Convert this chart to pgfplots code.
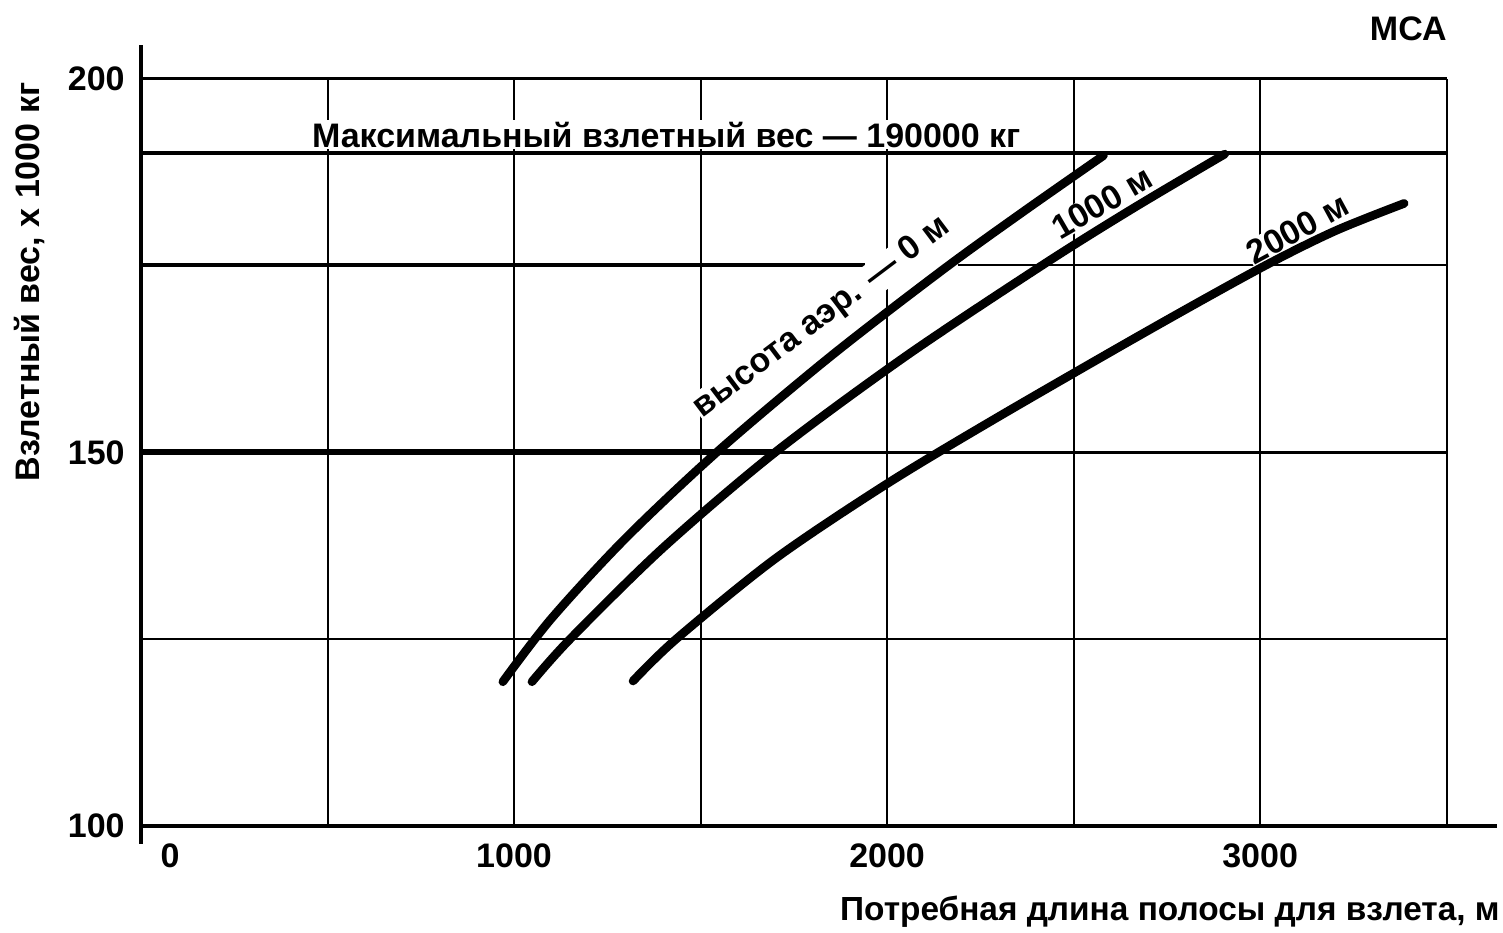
\documentclass[border=0pt]{standalone}
\usepackage{fontspec}
\setmainfont{Liberation Sans}
\usepackage{pgfplots}
\pgfplotsset{compat=1.18}
\newcommand{\lf}{\fontsize{17}{20}\selectfont\bfseries}
\begin{document}
\begin{tikzpicture}
\useasboundingbox (-70.5pt,-53pt) rectangle (681pt,413pt);
\begin{axis}[
  at={(0pt,0pt)}, anchor=south west,
  scale only axis, width=678pt, height=390.5pt,
  xmin=0, xmax=3635, ymin=100, ymax=204.5,
  axis x line*=bottom, axis y line*=left,
  axis line style={-, line width=1.6pt},
  xtick={0,1000,2000,3000},
  xticklabels={\hspace*{29pt}0,1000,2000,3000},
  ytick={100,150,200},
  major tick length=0pt,
  tick style={draw=none},
  ticklabel style={font=\lf},
  xticklabel style={anchor=north, inner sep=0pt, yshift=-8.5pt},
  yticklabel style={anchor=east, inner sep=0pt, xshift=-8pt},
  /pgf/number format/assume math mode=true,
  clip=false,
]
% grid
\foreach \gx in {500,1000,...,3500} {
  \edef\tmp{\noexpand\draw[line width=1pt] (axis cs:\gx,100) -- (axis cs:\gx,200);}\tmp
}
\draw[line width=1.5pt] (axis cs:0,200) -- (axis cs:3500,200);
\draw[line width=2pt] (axis cs:0,190) -- (axis cs:3500,190);
\draw[line width=2pt] (axis cs:0,175) -- (axis cs:1940,175);
\draw[line width=1pt] (axis cs:2190,175) -- (axis cs:3500,175);
\draw[line width=3pt] (axis cs:0,150) -- (axis cs:1700,150);
\draw[line width=1.2pt] (axis cs:1700,150) -- (axis cs:3500,150);
\draw[line width=1.3pt] (axis cs:0,125) -- (axis cs:3500,125);
\draw[line width=1.6pt] (axis cs:0,100) -- (axis cs:0,97.6);

% texts inside the grid (drawn before the curves)
\node[font=\lf, fill=white, inner sep=1pt] at (axis cs:1408,192.5) {Максимальный взлетный вес — 190000 кг};
\node[font=\lf, rotate=37, fill=white, inner sep=0.5pt] at (axis cs:1826,168.0) {высота аэр. — 0 м};
\node[font=\lf, rotate=30, fill=white, inner sep=0.5pt] at (axis cs:2576,183.4) {1000 м};
\node[font=\lf, rotate=28.5, fill=white, inner sep=0.5pt] at (axis cs:3100,179.9) {2000 м};

% curves
\addplot[black, line width=4.3pt, line cap=round, smooth] coordinates {
 (970,119.3) (1100,127.75) (1300,138.55) (1550,150.3) (1850,162.9) (2150,174.45) (2365,182.2) (2580,189.7)
};
\addplot[black, line width=4.3pt, line cap=round, smooth] coordinates {
 (1048,119.3) (1150,125) (1400,137.25) (1700,150) (2050,162.86) (2420,175.16) (2660,182.66) (2905,189.9)
};
\addplot[black, line width=4.3pt, line cap=round, smooth] coordinates {
 (1319,119.4) (1435,125.03) (1700,135.76) (2000,145.8) (2300,154.8) (2700,166.3) (3005,174.76) (3200,179.6) (3386,183.3)
};

% outer texts
\node[font=\lf] at (axis cs:3397,206.6) {МСА};
\node[font=\fontsize{16.7}{20}\selectfont\bfseries, anchor=east, inner sep=0pt] at (rel axis cs:1,0) [yshift=-43pt, xshift=1.5pt] {Потребная длина полосы для взлета, м};
\node[font=\lf, rotate=90, inner sep=0pt] at (rel axis cs:-0.0819,0.6966) {Взлетный вес, х 1000 кг};
\end{axis}
\end{tikzpicture}
\end{document}
